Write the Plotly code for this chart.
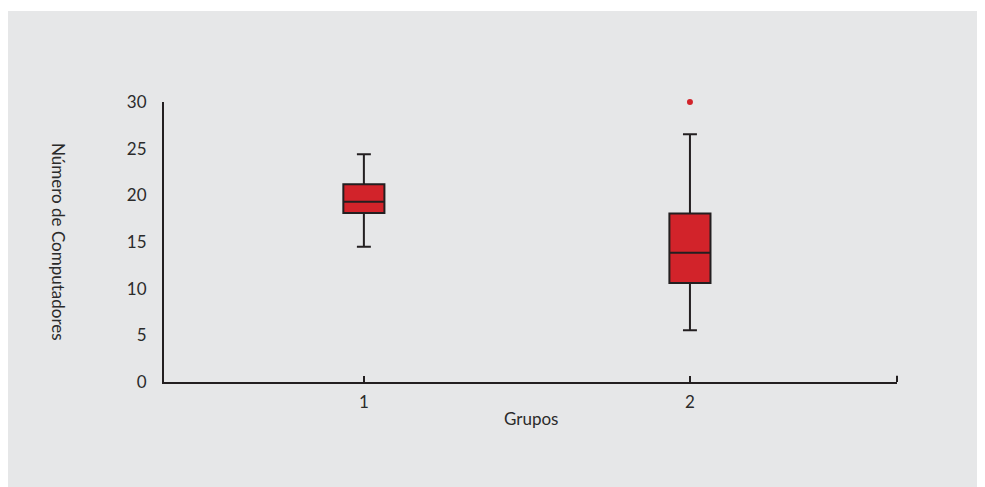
import plotly.graph_objects as go

groups = [1, 2]
q1_vals = [18.1, 10.6]
median_vals = [19.3, 13.85]
q3_vals = [21.2, 18.05]
lower_vals = [14.5, 5.55]
upper_vals = [24.4, 26.55]
outlier_x = [2]
outlier_y = [30.0]
y_ticks = [0, 5, 10, 15, 20, 25, 30]

RED = "#D2232A"
DARK = "#231F20"
GREY = "#E6E7E8"
TXT = "#2b2b2b"
FONT = "Lato, 'Open Sans', sans-serif"

fig = go.Figure()
for i, g in enumerate(groups):
    fig.add_trace(go.Box(
        x=[g], q1=[q1_vals[i]], median=[median_vals[i]], q3=[q3_vals[i]],
        lowerfence=[lower_vals[i]], upperfence=[upper_vals[i]],
        fillcolor=RED, line=dict(color=DARK, width=2),
        width=0.126, whiskerwidth=0.34, boxpoints=False,
        showlegend=False, hoverinfo="y",
    ))
fig.add_trace(go.Scatter(
    x=outlier_x, y=outlier_y, mode="markers", cliponaxis=False,
    marker=dict(color=RED, size=6), showlegend=False,
))

fig.update_layout(
    width=975, height=479,
    margin=dict(l=156, r=86, t=94, b=105),
    paper_bgcolor=GREY, plot_bgcolor=GREY,
    font=dict(family=FONT, color=TXT),
    xaxis=dict(
        range=[0.387, 2.635], tickvals=groups, ticktext=[str(g) for g in groups],
        showgrid=False, zeroline=False, showline=True, linecolor=DARK, linewidth=2,
        ticks="inside", ticklen=6, tickwidth=2, tickcolor=DARK,
        tickfont=dict(size=17, color=TXT), ticklabelstandoff=4,
    ),
    yaxis=dict(
        range=[0, 30], tickvals=y_ticks, showgrid=False, zeroline=False,
        showline=True, linecolor=DARK, linewidth=2, ticks="",
        tickfont=dict(size=17, color=TXT), ticklabelstandoff=12,
    ),
    shapes=[
        dict(type="rect", xref="paper", yref="paper", x0=-0.3, x1=1.2, y0=1.3250, y1=1.5,
             fillcolor="white", line=dict(width=0), layer="below"),
        dict(type="line", xref="x domain", yref="y domain", x0=1, x1=1, y0=0, y1=0.022,
             line=dict(color=DARK, width=2)),
    ],
    annotations=[
        dict(text="Número de Computadores", xref="paper", yref="paper",
             x=-0.1432, y=0.5, textangle=90, showarrow=False,
             font=dict(size=17, color=TXT), xanchor="center", yanchor="middle"),
        dict(text="Grupos", xref="paper", yref="paper",
             x=0.5, y=-0.1286, showarrow=False,
             font=dict(size=17, color=TXT), xanchor="center", yanchor="middle"),
    ],
)

fig.write_html("out.html")
